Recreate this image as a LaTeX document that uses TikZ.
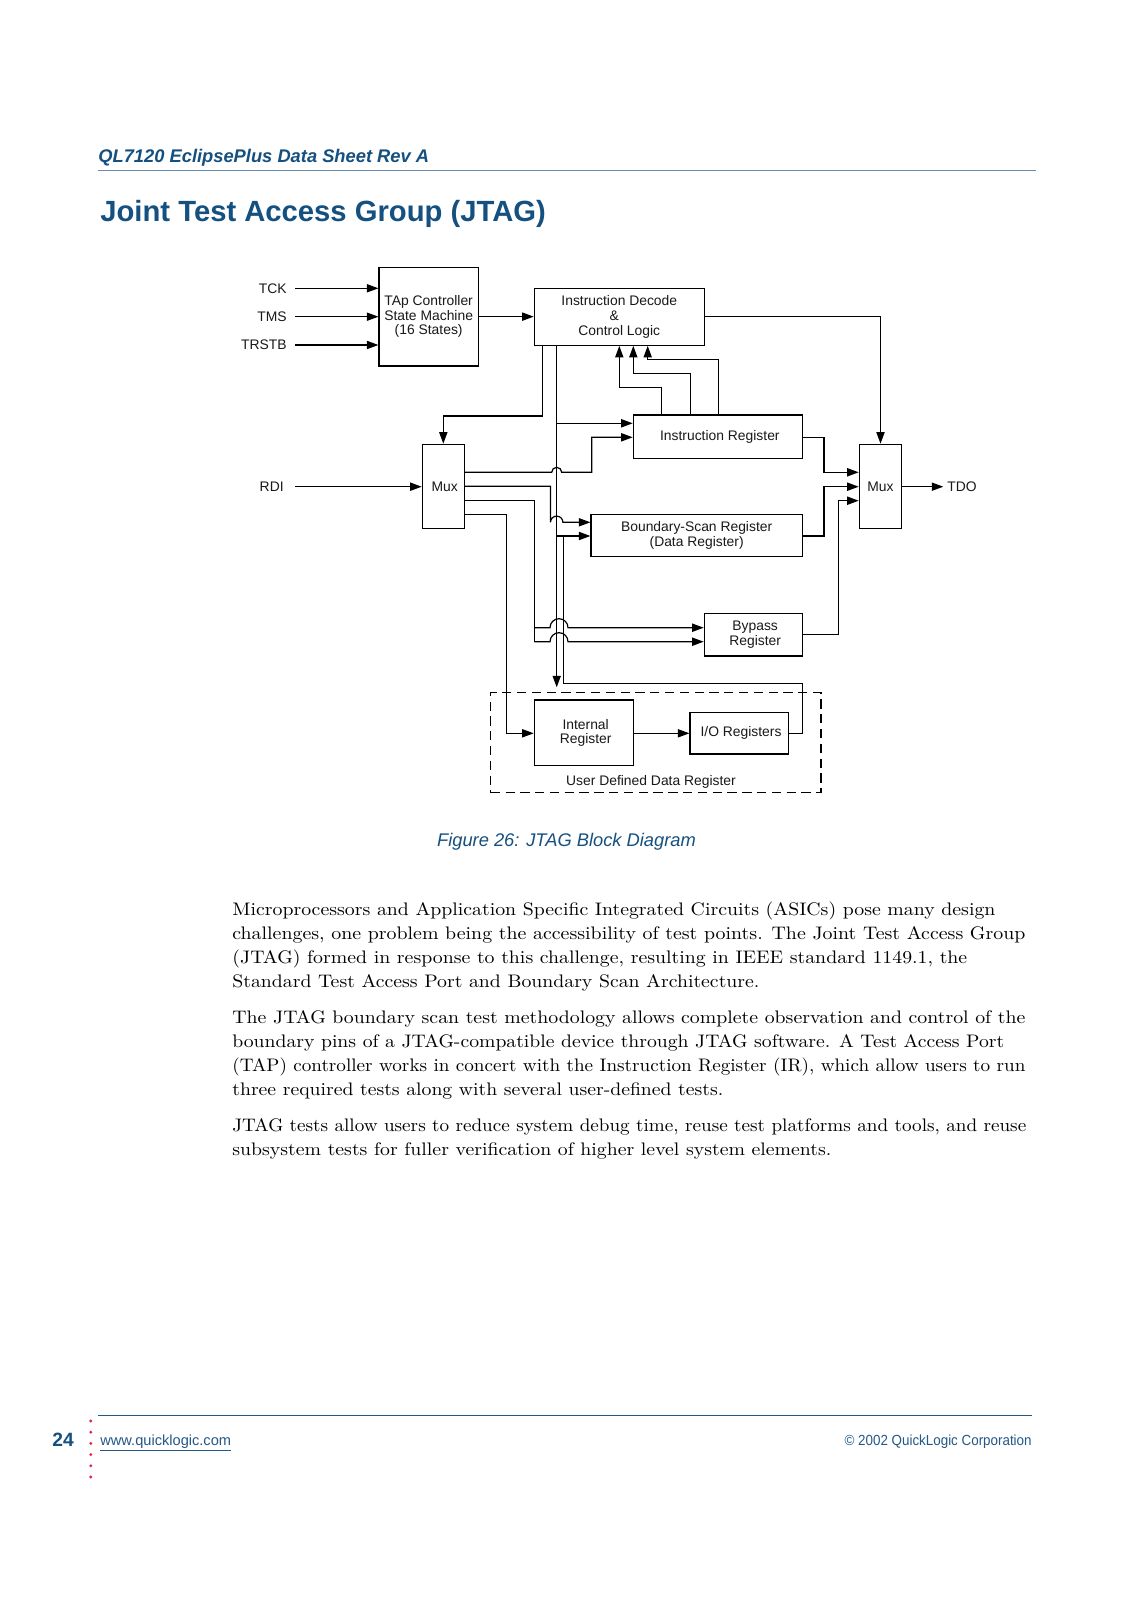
\documentclass[tikz,border=0pt]{standalone}
\usepackage{fontspec}
\usepackage{graphicx}
\usetikzlibrary{arrows.meta}
\newfontfamily\arial{Liberation Sans}
\definecolor{qlblue}{RGB}{20,80,128}
\definecolor{qlrule}{RGB}{105,140,172}
\definecolor{qlfoot}{RGB}{35,88,135}
\definecolor{qlred}{RGB}{232,30,62}
\newcommand\fitw[2]{\resizebox{#1}{\height}{#2}}
\tikzset{
  dfont/.style={font=\arial\fontsize{7.5}{7.95}\selectfont, text=black!90},
  ln/.style={line width=0.65pt, draw=black},
  arr/.style={ln, -{Triangle[length=6.2pt,width=4.4pt]}},
  blk/.style={draw=black, line width=0.65pt, inner sep=0pt, align=center, dfont},
  lbl/.style={dfont, inner sep=0pt},
  body/.style={font=\fontsize{9.8}{12}\selectfont, inner sep=0pt, anchor=base west},
}
\newcommand\mkbox[6]{\node[blk, minimum width={(#4-#2)*0.5406pt}, minimum height={(#5-#3)*0.5406pt}] (#1) at ({(#2+#4)/2},{(#3+#5)/2}) {#6};}
\begin{document}
\begin{tikzpicture}[x=0.5406pt,y=-0.5406pt]
\useasboundingbox[fill=white] (0,0) rectangle (1132,1600);

% header
\node[inner sep=0pt, anchor=base west, text=qlblue, font=\arial\bfseries\itshape\fontsize{9.9}{12}\selectfont] (hdr) at (98,162.3) {QL7120 EclipsePlus Data Sheet Rev A};
\draw[qlrule, line width=0.7pt] (98,170.5) -- (1036,170.5);
\node[inner sep=0pt, anchor=base west, text=qlblue, font=\arial\bfseries\fontsize{15.8}{18}\selectfont] (title) at (100,221.5) {Joint Test Access Group (JTAG)};

% diagram boxes
\mkbox{tap}{379}{267.3}{478.3}{366}{TAp Controller\\State Machine\\(16 States)}
\mkbox{id}{534.3}{288.3}{704.3}{345.3}{Instruction Decode\\\hbox{\&\kern5.5pt}\\Control Logic}
\mkbox{mux1}{422.3}{444.3}{464.3}{528.3}{\hbox{\kern1.5pt Mux}}
\mkbox{mux2}{859.3}{444.3}{901.7}{528.3}{\raisebox{-3.6pt}{Mux}}
\mkbox{ir}{633.3}{415}{802.7}{458.5}{\hbox{\kern2pt Instruction Register}}
\mkbox{bsr}{591}{514.3}{802.3}{556.7}{Boundary-Scan Register\\(Data Register)}
\mkbox{byp}{704.3}{613.3}{802.3}{656}{\hbox{\kern2pt Bypass}\\\hbox{\kern2pt Register}}
\mkbox{intreg}{534.3}{700}{633.3}{765.7}{\hbox{\kern2pt Internal}\\\hbox{\kern2pt Register}}
\mkbox{io}{690}{712.3}{788.3}{754}{\hbox{\kern2pt I/O Registers}}
\node[draw=black, line width=0.65pt, dash pattern=on 5pt off 3pt, inner sep=0pt,
  minimum width={(821-490.7)*0.5406pt}, minimum height={(792.7-692.7)*0.5406pt}] (udr) at ({(490.7+821)/2},{(692.7+792.7)/2}) {};
\node[lbl] (udrl) at (651,781.7) {User Defined Data Register};

% signal labels
\node[lbl, anchor=east] (tck) at (287,288.3) {TCK};
\node[lbl, anchor=east] (tms) at (287,316.7) {TMS};
\node[lbl, anchor=east] (trstb) at (287,345) {TRSTB};
\node[lbl, anchor=east] (rdi) at (284,486.7) {RDI};
\node[lbl, anchor=west] (tdo) at (947,486.7) {TDO};
\coordinate (udrtop) at (556.7,687.3);

% inputs
\draw[arr] (295,288.3) -- (tck.east -| tap.west);
\draw[arr] (295,316.7) -- (tms.east -| tap.west);
\draw[arr] (295,345) -- (trstb.east -| tap.west);
\draw[arr] (295,486.7) -- (rdi.east -| mux1.west);
\draw[arr] (tap.east) -- (tap.east -| id.west);

% instruction decode outputs
\draw[arr] (id.east) -| (mux2.north);
\draw[arr] (id.south -| 542.3,0) |- (443.3,416) -- (mux1.north);
\draw[arr] (id.south -| 556.7,0) -- (udrtop);
\draw[arr] (556.7,423.3) -- (ir.west |- 0,423.3);
\draw[arr] (556.7,536) -- (bsr.west |- 0,536);

% instruction register feedback
\draw[arr] (ir.north -| 661.7,0) |- (619.3,387.3) -- (id.south -| 619.3,0);
\draw[arr] (ir.north -| 690.7,0) |- (633.3,373.3) -- (id.south -| 633.3,0);
\draw[arr] (ir.north -| 718.7,0) |- (647.7,359.3) -- (id.south -| 647.7,0);

% registers to output mux
\draw[arr] (ir.east |- 0,437.3) -| (824,472.3) -- (mux2.west |- 0,472.3);
\draw[arr] (bsr.east |- 0,536) -| (824,486.7) -- (mux2.west |- 0,486.7);
\draw[arr] (byp.east) -| (838.3,500.7) -- (mux2.west |- 0,500.7);
\draw[arr] (mux2.east |- 0,486.7) -- ([xshift=-2pt]tdo.west);

% input mux outputs
\draw[arr] (mux1.east |- 0,472.3) -- (551.7,472.3) arc[start angle=180, end angle=0, radius=2.7pt] -- (591.7,472.3) -- (591.7,437.3) -- (ir.west |- 0,437.3);
\draw[arr] (mux1.east |- 0,486.3) -- (550.5,486.3) -- (550.5,522.3) arc[start angle=180, end angle=0, radius=3.35pt] -- (bsr.west |- 0,522.3);
\draw[ln] (mux1.east |- 0,500.3) -- (534.3,500.3) -- (534.3,641.7);
\draw[arr] (534.3,627.7) -- (550,627.7) arc[start angle=180, end angle=0, radius=4.87pt] -- (byp.west |- 0,627.7);
\draw[arr] (534.3,641.7) -- (550,641.7) arc[start angle=180, end angle=0, radius=4.87pt] -- (byp.west |- 0,641.7);
\draw[arr] (mux1.east |- 0,514.3) -| (506.7,733.3) -- (intreg.west |- 0,733.3);

% user defined data register
\draw[arr] (intreg.east |- 0,733.3) -- (io.west |- 0,733.3);
\draw[ln] (io.east |- 0,733.3) -| (802.7,683.3) -| (563.3,536);

% caption
\node[inner sep=0pt, anchor=base, text=qlblue, font=\arial\itshape\fontsize{9.9}{12}\selectfont] (cap) at (566.5,846) {Figure 26: JTAG Block Diagram};

% body text
\node[body] (p1a) at (232,915) {\fitw{412.5pt}{Microprocessors and Application Specific Integrated Circuits (ASICs) pose many design}};
\node[body] (p1b) at (232,939.2) {\fitw{428.7pt}{challenges, one problem being the accessibility of test points. The Joint Test Access Group}};
\node[body] (p1c) at (232,963.4) {\fitw{397.3pt}{(JTAG) formed in response to this challenge, resulting in IEEE standard 1149.1, the}};
\node[body] (p1d) at (232,987.6) {\fitw{284.9pt}{Standard Test Access Port and Boundary Scan Architecture.}};
\node[body] (p2a) at (232,1023.3) {\fitw{428.7pt}{The JTAG boundary scan test methodology allows complete observation and control of the}};
\node[body] (p2b) at (232,1047.5) {\fitw{417.3pt}{boundary pins of a JTAG-compatible device through JTAG software. A Test Access Port}};
\node[body] (p2c) at (232,1071.7) {\fitw{428.7pt}{(TAP) controller works in concert with the Instruction Register (IR), which allow users to run}};
\node[body] (p2d) at (232,1095.9) {\fitw{265.4pt}{three required tests along with several user-defined tests.}};
\node[body] (p3a) at (232,1131.7) {\fitw{429.2pt}{JTAG tests allow users to reduce system debug time, reuse test platforms and tools, and reuse}};
\node[body] (p3b) at (232,1155.9) {\fitw{323.8pt}{subsystem tests for fuller verification of higher level system elements.}};

% footer
\draw[qlfoot, line width=0.8pt] (98,1415.7) -- (1032,1415.7);
\node[inner sep=0pt, anchor=base west, text=qlblue, font=\arial\bfseries\fontsize{10.4}{12}\selectfont] (pg) at (52,1446) {24};
\foreach \k in {0,...,5} \fill[qlred] (90.8,{1421+11.2*\k}) circle[radius=0.85pt];
\node[inner sep=0pt, anchor=base west, text=qlfoot, font=\arial\fontsize{7.9}{10}\selectfont] (url) at (100,1445) {\underline{www.quicklogic.com}};
\node[inner sep=0pt, anchor=base east, text=qlfoot, font=\arial\fontsize{7.9}{10}\selectfont] (copy) at (1032,1445) {\fitw{101.1pt}{\textcopyright{} 2002 QuickLogic Corporation}};
\end{tikzpicture}
\end{document}
